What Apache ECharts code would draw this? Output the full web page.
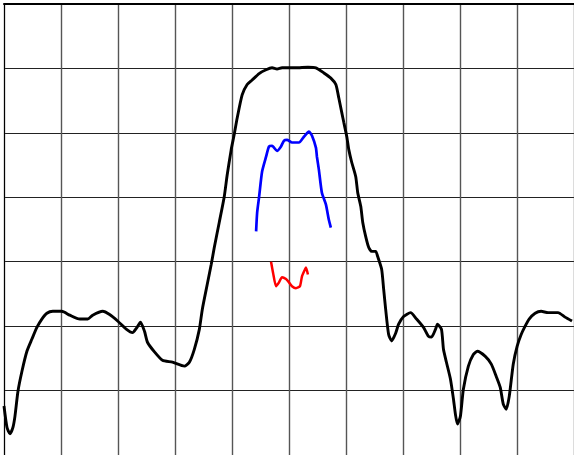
<!DOCTYPE html>
<html>
<head>
<meta charset="utf-8">
<script src="https://cdn.jsdelivr.net/npm/echarts@6/dist/echarts.min.js"></script>
<style>html,body{margin:0;padding:0;background:#fff;}#c{width:574px;height:455px;}</style>
</head>
<body>
<div id="c"></div>
<script>
// x in divisions, y in dB (10 dB / division, top = 0 dB)
var blackX = [0.000,0.052,0.105,0.157,0.192,0.245,0.315,0.402,0.490,0.577,0.664,0.752,0.857,1.014,1.154,1.329,1.469,1.556,1.731,1.853,1.993,2.150,2.255,2.325,2.395,2.465,2.517,2.640,2.780,2.955,3.164,3.252,3.339,3.427,3.479,3.566,3.636,3.689,3.776,3.864,3.916,3.986,4.038,4.091,4.178,4.266,4.353,4.476,4.598,4.703,4.790,4.878,5.122,5.332,5.472,5.612,5.734,5.822,5.874,5.927,5.962,6.014,6.049,6.101,6.171,6.206,6.259,6.294,6.346,6.399,6.451,6.521,6.556,6.626,6.661,6.696,6.748,6.801,6.871,6.923,7.010,7.133,7.238,7.360,7.448,7.500,7.570,7.605,7.675,7.710,7.762,7.832,7.885,7.920,7.955,8.007,8.059,8.147,8.234,8.304,8.444,8.549,8.636,8.706,8.759,8.811,8.864,8.934,9.003,9.073,9.143,9.213,9.318,9.423,9.545,9.720,9.843,9.965];
var blackY = [-62.4,-65.7,-66.7,-65.7,-64.0,-60.1,-57.0,-53.9,-52.0,-50.2,-48.9,-48.0,-47.7,-47.7,-48.3,-48.9,-48.9,-48.3,-47.7,-48.2,-49.2,-50.5,-51.0,-50.3,-49.4,-50.8,-52.5,-54.0,-55.3,-55.6,-56.2,-55.6,-53.6,-50.5,-47.4,-43.5,-40.4,-37.8,-33.9,-29.9,-26.5,-22.6,-20.3,-17.7,-14.1,-12.5,-11.8,-10.8,-10.2,-9.9,-10.1,-9.9,-9.9,-9.8,-9.9,-10.7,-11.5,-12.5,-14.6,-16.9,-18.4,-20.6,-22.6,-24.6,-26.8,-29.3,-31.4,-33.9,-36.1,-37.8,-38.4,-38.4,-39.2,-41.2,-44.3,-47.4,-51.3,-52.3,-51.1,-49.7,-48.5,-47.9,-48.9,-50.2,-51.6,-51.7,-50.5,-49.7,-50.5,-53.6,-55.6,-58.2,-61.3,-63.7,-65.2,-64.0,-59.8,-56.2,-54.4,-53.9,-54.7,-55.9,-57.8,-59.5,-62.1,-62.9,-60.9,-55.9,-53.1,-51.3,-50.0,-48.9,-48.0,-47.7,-47.9,-47.9,-48.6,-49.2];
var blueX = [4.423,4.441,4.476,4.528,4.598,4.650,4.703,4.790,4.860,4.913,4.965,5.052,5.175,5.262,5.350,5.402,5.472,5.490,5.524,5.577,5.647,5.699,5.734];
var blueY = [-35.3,-32.4,-29.9,-26.0,-23.7,-22.1,-22.0,-22.8,-22.1,-21.2,-21.1,-21.5,-21.5,-20.6,-19.8,-20.4,-22.3,-23.7,-25.7,-29.3,-31.1,-33.5,-34.7];
var redX = [4.685,4.720,4.773,4.825,4.878,4.948,5.000,5.052,5.122,5.192,5.227,5.280,5.297,5.332];
var redY = [-40.0,-41.7,-43.8,-43.2,-42.4,-42.7,-43.2,-43.8,-44.1,-43.8,-42.3,-41.2,-40.9,-42.0];

function zip(xs, ys){ return xs.map(function(x,i){ return [x, ys[i]]; }); }

var chart = echarts.init(document.getElementById('c'), null, {renderer:'canvas'});
chart.setOption({
  animation: false,
  backgroundColor: '#fff',
  grid: {left: 4, top: 4, width: 572, height: 452, show: false},
  xAxis: [{
    type: 'value', min: 0, max: 10, interval: 1,
    axisLine: {show: false}, axisTick: {show: false}, axisLabel: {show: false},
    splitLine: {show: true, lineStyle: {color: '#555', width: 1.4}}
  },{
    type: 'value', min: 0, max: 10, interval: 1, position: 'top',
    axisLine: {show: true, lineStyle: {color: '#000', width: 2}},
    axisTick: {show: false}, axisLabel: {show: false}, splitLine: {show: false}
  }],
  yAxis: {
    type: 'value', min: -70, max: 0, interval: 10,
    axisLine: {show: true, lineStyle: {color: '#000', width: 1}},
    axisTick: {show: false}, axisLabel: {show: false},
    splitLine: {show: true, lineStyle: {color: '#222', width: 1}}
  },
  series: [
    {type: 'line', data: zip(blackX, blackY), showSymbol: false, smooth: 0.2, lineStyle: {color: '#000', width: 2.9}},
    {type: 'line', data: zip(blueX, blueY), showSymbol: false, smooth: 0.2, lineStyle: {color: '#0000ff', width: 2.7}},
    {type: 'line', data: zip(redX, redY), showSymbol: false, smooth: 0.2, lineStyle: {color: '#ff0000', width: 2.5}}
  ]
});
</script>
</body>
</html>
